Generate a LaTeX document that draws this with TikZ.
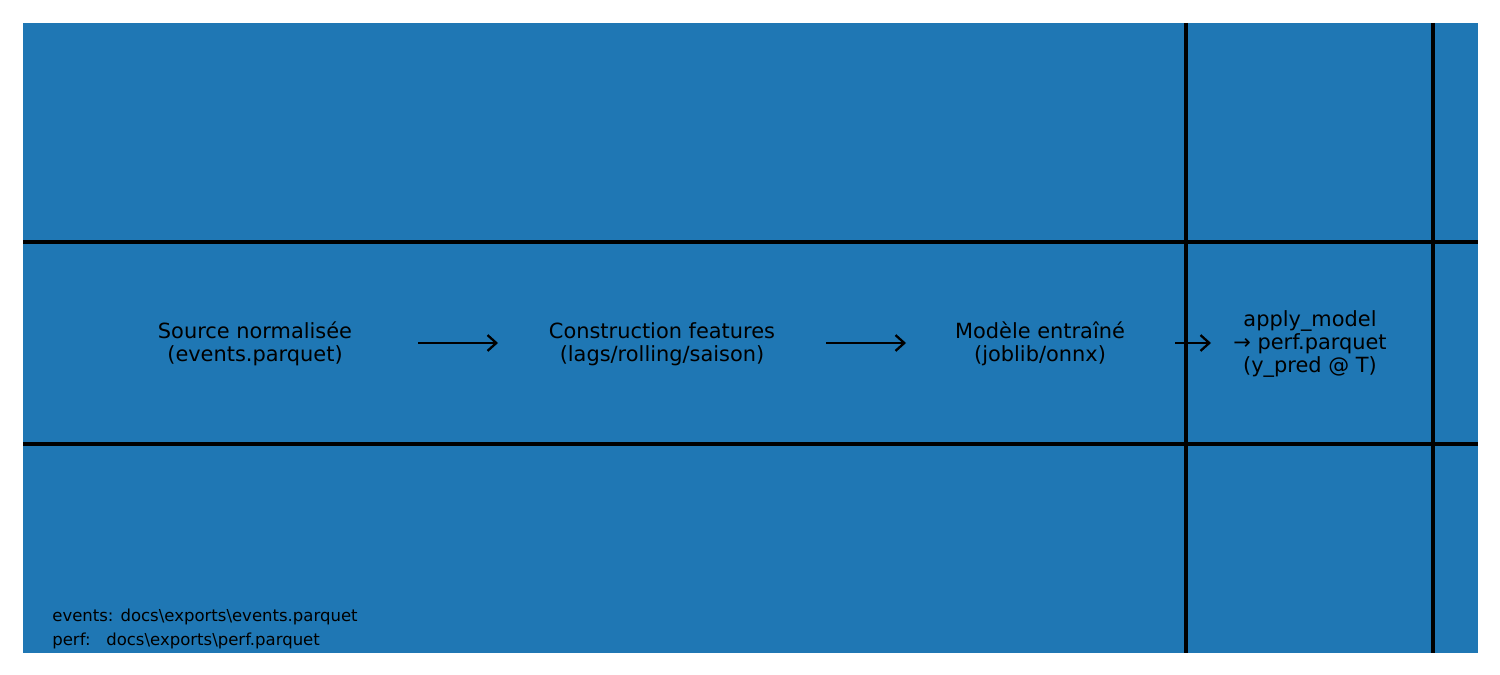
\documentclass[tikz,border=0pt]{standalone}
\usepackage{fontspec}
\setmainfont{DejaVu Sans}
\usetikzlibrary{arrows.meta}
\definecolor{mplblue}{HTML}{1F77B4}
\begin{document}
\begin{tikzpicture}[x=0.02cm,y=-0.02cm,
  lbl/.style={align=center,font=\fontsize{11.9pt}{13pt}\selectfont,inner sep=0pt},
  note/.style={align=left,anchor=north west,font=\fontsize{9.4pt}{13.6pt}\selectfont,inner sep=0pt},
  flow/.style={-{Straight Barb[length=5pt,width=9pt]},line width=1.3pt},
  grid/.style={line width=1.9pt}]
\useasboundingbox (0,0) rectangle (1500,675);
\fill[mplblue] (23,23) rectangle (1478,653);
\draw[grid] (23,242) -- (1478,242);
\draw[grid] (23,444) -- (1478,444);
\draw[grid] (1186,23) -- (1186,653);
\draw[grid] (1433,23) -- (1433,653);
\node[lbl] (src) at (255,344) {Source normalisée\\(events.parquet)};
\node[lbl] (feat) at (662,344) {Construction features\\(lags/rolling/saison)};
\node[lbl] (model) at (1040,344) {Modèle entraîné\\(joblib/onnx)};
\node[lbl] (apply) at (1310,344) {apply\_model\\→ perf.parquet\\(y\_pred @ T)};
\coordinate (a1s) at (418,343); \coordinate (a1e) at (498,343);
\coordinate (a2s) at (826,343); \coordinate (a2e) at (906,343);
\coordinate (a3s) at (1175,343); \coordinate (a3e) at (1211,343);
\draw[flow] (a1s) -- (a1e);
\draw[flow] (a2s) -- (a2e);
\draw[flow] (a3s) -- (a3e);
\node[note] (paths) at (52,609) {events: docs\textbackslash exports\textbackslash events.parquet\\perf:\ \ \ docs\textbackslash exports\textbackslash perf.parquet};
\end{tikzpicture}
\end{document}
